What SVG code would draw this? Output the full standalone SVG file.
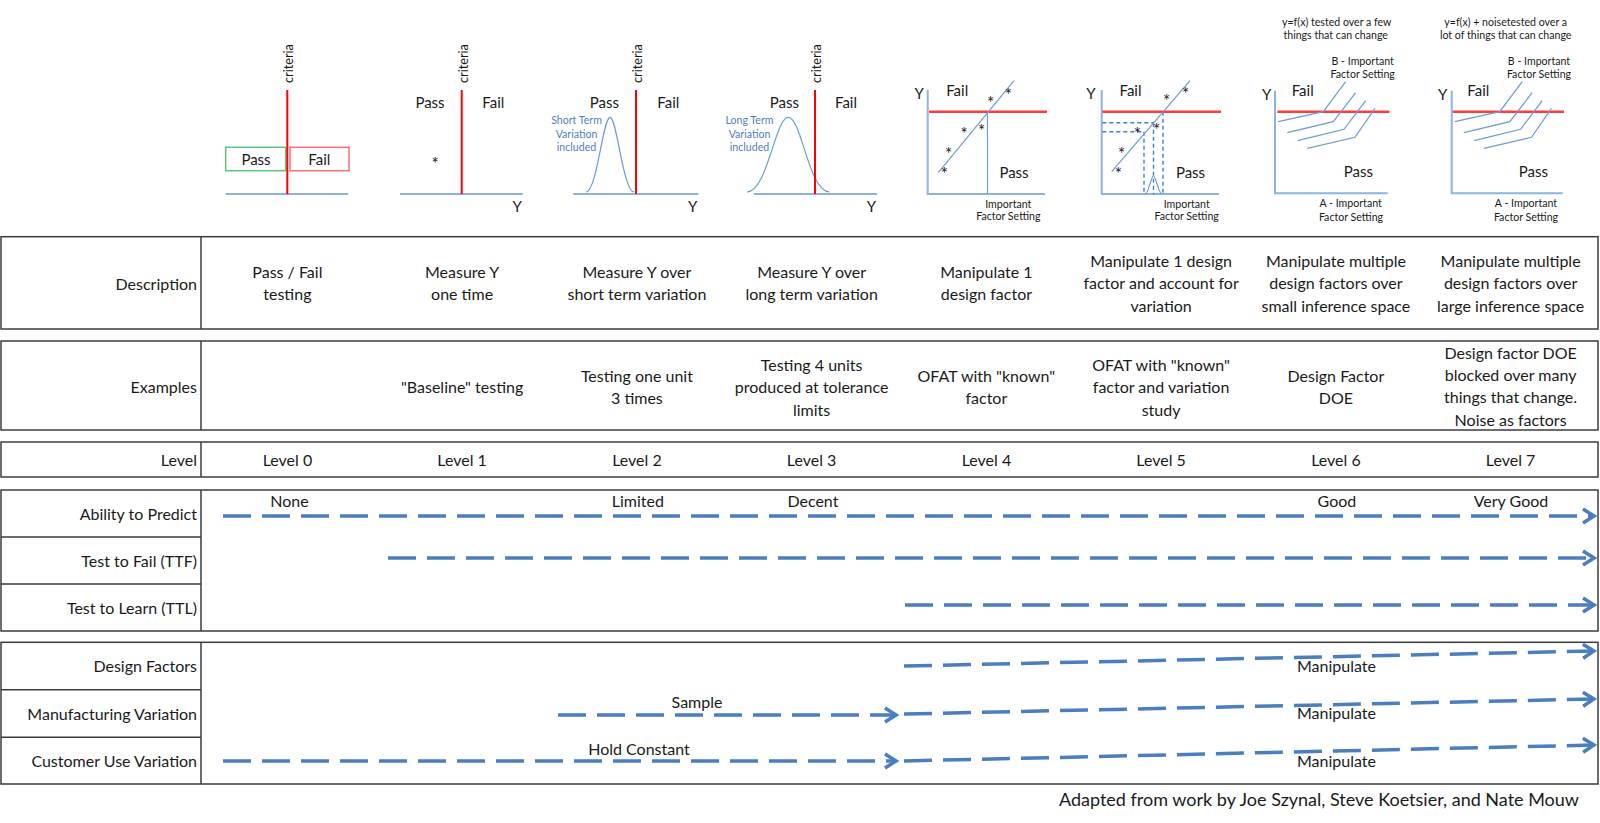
<svg xmlns="http://www.w3.org/2000/svg" width="1600" height="823" viewBox="0 0 1600 823">
<style>
text{font-family:Lato,"Liberation Sans",sans-serif;fill:#1a1a1a}
.t{font-size:16px;text-anchor:middle}
.lbl{font-size:16px;text-anchor:end}
.pf{font-size:15px;text-anchor:middle}
.sm{font-size:10.6px;text-anchor:middle}
.crit{font-size:12.7px}
.blt{fill:#4F81BD;font-size:10.6px;text-anchor:middle}
.star{font-size:17px;text-anchor:middle}
.box{fill:none;stroke:#3c3c3c;stroke-width:1.5}
.sep{stroke:#3c3c3c;stroke-width:1.5}
.ax{fill:none;stroke:#8DB3E2;stroke-width:2}
.crl{stroke:#FF0000;stroke-width:2;fill:none}
.hr{stroke:#FF3C3C;stroke-width:2.5;fill:none}
.fn{fill:none;stroke:#6C9BD8;stroke-width:1.2}
.dsh{fill:none;stroke:#3F7FD0;stroke-width:1.4;stroke-dasharray:4 3}
.arr{fill:none;stroke:#4A7EBF;stroke-width:3.5;stroke-dasharray:28 11;marker-end:url(#chev)}
</style>
<defs>
<marker id="chev" markerUnits="userSpaceOnUse" markerWidth="16" markerHeight="18" viewBox="-2 -2 16 18" refX="11" refY="7" orient="auto">
<path d="M0,0 L11,7 L0,14" fill="none" stroke="#4A7EBF" stroke-width="3.5"/>
</marker>
</defs>
<rect width="1600" height="823" fill="#ffffff"/>

<g id="diagram-0">
<path class="ax" d="M225.7,194 H348.3"/>
<rect x="225.7" y="147.3" width="60" height="23.4" fill="none" stroke="#5CC47E" stroke-width="1.5"/>
<rect x="290" y="147.3" width="59" height="23.4" fill="none" stroke="#FF6E70" stroke-width="1.5"/>
<path class="crl" d="M287.3,90 V194"/>
<text class="crit" transform="translate(293,83) rotate(-90)">criteria</text>
<text class="pf" x="256" y="165">Pass</text>
<text class="pf" x="319.3" y="165">Fail</text>
</g>

<g id="diagram-1">
<path class="ax" d="M400,194 H522.7"/>
<path class="crl" d="M461.7,90 V194"/>
<text class="crit" transform="translate(467.5,83) rotate(-90)">criteria</text>
<text class="pf" x="430" y="108">Pass</text>
<text class="pf" x="493.3" y="108">Fail</text>
<text class="star" x="435" y="169.5">*</text>
<text class="pf" x="517.3" y="212">Y</text>
</g>

<g id="diagram-2">
<path class="ax" d="M573.3,194 H698.3"/>
<path class="fn" d="M586,192 C597,191 603,117.3 610,117.3 C617,117.3 623,191 634,192"/>
<path class="crl" d="M636,90 V194"/>
<text class="crit" transform="translate(642,83) rotate(-90)">criteria</text>
<text class="pf" x="604.3" y="108">Pass</text>
<text class="pf" x="668.3" y="108">Fail</text>
<text class="blt" x="576.5" y="124">Short Term</text>
<text class="blt" x="576.5" y="137.5">Variation</text>
<text class="blt" x="576.5" y="151">included</text>
<text class="pf" x="692.7" y="212">Y</text>
</g>

<g id="diagram-3">
<path class="ax" d="M754,194 H877"/>
<path class="fn" d="M747,192 C768,191 775,117.3 788.3,117.3 C801.5,117.3 808.5,191 829.5,192"/>
<path class="crl" d="M815,90 V194"/>
<text class="crit" transform="translate(821,83) rotate(-90)">criteria</text>
<text class="pf" x="784.3" y="108">Pass</text>
<text class="pf" x="846" y="108">Fail</text>
<text class="blt" x="749.5" y="124">Long Term</text>
<text class="blt" x="749.5" y="137.5">Variation</text>
<text class="blt" x="749.5" y="151">included</text>
<text class="pf" x="871.5" y="212">Y</text>
</g>

<g id="diagram-4">
<path class="ax" d="M927.7,90 V194 H1045"/>
<path class="hr" d="M929,111.7 H1047"/>
<path class="fn" d="M938.3,172.7 L1014,80.7"/>
<path class="fn" d="M987.5,111.7 V194"/>
<text class="star" x="944.3" y="179.5">*</text>
<text class="star" x="948.5" y="159.6">*</text>
<text class="star" x="964" y="140.2">*</text>
<text class="star" x="981.7" y="136.8">*</text>
<text class="star" x="990.7" y="108.8">*</text>
<text class="star" x="1008.3" y="101.2">*</text>
<text class="pf" x="919.3" y="99">Y</text>
<text class="pf" x="957.2" y="96">Fail</text>
<text class="pf" x="1014" y="178">Pass</text>
<text class="sm" x="1008.3" y="207.5">Important</text>
<text class="sm" x="1008.3" y="220">Factor Setting</text>
</g>

<g id="diagram-5">
<path class="ax" d="M1101.7,90 V194 H1219"/>
<path class="dsh" d="M1102.3,122.7 H1154 M1102.3,131.7 H1144 M1144,131.7 V194 M1153.5,122.7 V194 M1163,111.7 V194"/>
<path class="fn" d="M1145,194 C1149,193 1151,176 1153.5,176 C1156,176 1158,193 1162,194"/>
<path class="hr" d="M1102.3,111.7 H1221"/>
<path class="fn" d="M1111.7,171.7 L1190,80.7"/>
<text class="star" x="1118.3" y="179.5">*</text>
<text class="star" x="1121.7" y="159.5">*</text>
<text class="star" x="1137.3" y="140.2">*</text>
<text class="star" x="1156.7" y="136.2">*</text>
<text class="star" x="1166.7" y="107.2">*</text>
<text class="star" x="1185.7" y="100.2">*</text>
<text class="pf" x="1091" y="99">Y</text>
<text class="pf" x="1130.5" y="96">Fail</text>
<text class="pf" x="1190.5" y="178">Pass</text>
<text class="sm" x="1186.7" y="207.5">Important</text>
<text class="sm" x="1186.7" y="220">Factor Setting</text>
</g>

<g id="diagram-6">
<text class="sm" x="1336.7" y="26">y=f(x) tested over a few</text>
<text class="sm" x="1335.7" y="39">things that can change</text>
<text class="sm" x="1362.7" y="64.5">B - Important</text>
<text class="sm" x="1362.7" y="77.5">Factor Setting</text>
<path class="ax" d="M1275,90.7 V193.3 H1387.7"/>
<path class="hr" d="M1277.3,111.7 H1389.3"/>
<path class="fn" d="M1278.3,121.7 L1323.3,111.7 L1345.7,81.7 M1287.3,132.7 L1333.3,121.7 L1355.7,92.7 M1297.7,140.7 L1344,129.3 L1365.7,100.7 M1307.3,148.3 L1355,137.3 L1375,108.3"/>
<text class="pf" x="1266.7" y="100">Y</text>
<text class="pf" x="1302.7" y="95.5">Fail</text>
<text class="pf" x="1358.3" y="177">Pass</text>
<text class="sm" x="1350.7" y="207">A - Important</text>
<text class="sm" x="1351" y="221">Factor Setting</text>
</g>

<g id="diagram-7">
<text class="sm" x="1505.7" y="26">y=f(x) + noisetested over a</text>
<text class="sm" x="1505.7" y="39">lot of things that can change</text>
<text class="sm" x="1539" y="64.5">B - Important</text>
<text class="sm" x="1539" y="77.5">Factor Setting</text>
<path class="ax" d="M1451.7,90.7 V193.3 H1562.7"/>
<path class="hr" d="M1452.7,111.7 H1564"/>
<path class="fn" d="M1454.8,121.7 L1499.8,111.7 L1522.2,81.7 M1463.8,132.7 L1509.8,121.7 L1532.2,92.7 M1474.2,140.7 L1520.5,129.3 L1542.2,100.7 M1483.8,148.3 L1531.5,137.3 L1551.5,108.3"/>
<text class="pf" x="1442.7" y="100">Y</text>
<text class="pf" x="1478.3" y="95.5">Fail</text>
<text class="pf" x="1533.3" y="177">Pass</text>
<text class="sm" x="1526" y="207">A - Important</text>
<text class="sm" x="1526" y="221">Factor Setting</text>
</g>

<g id="row-description">
<rect class="box" x="1" y="236.7" width="1597" height="92.3"/>
<path class="sep" d="M201,236.7 V329"/>
<text class="lbl" x="197" y="289.5">Description</text>
<text class="t" x="287.4" y="277.5">Pass / Fail</text><text class="t" x="287.4" y="300">testing</text>
<text class="t" x="462.1" y="277.5">Measure Y</text><text class="t" x="462.1" y="300">one time</text>
<text class="t" x="636.9" y="277.5">Measure Y over</text><text class="t" x="636.9" y="300">short term variation</text>
<text class="t" x="811.6" y="277.5">Measure Y over</text><text class="t" x="811.6" y="300">long term variation</text>
<text class="t" x="986.4" y="277.5">Manipulate 1</text><text class="t" x="986.4" y="300">design factor</text>
<text class="t" x="1161.1" y="266.5">Manipulate 1 design</text><text class="t" x="1161.1" y="289">factor and account for</text><text class="t" x="1161.1" y="311.5">variation</text>
<text class="t" x="1335.9" y="266.5">Manipulate multiple</text><text class="t" x="1335.9" y="289">design factors over</text><text class="t" x="1335.9" y="311.5">small inference space</text>
<text class="t" x="1510.6" y="266.5">Manipulate multiple</text><text class="t" x="1510.6" y="289">design factors over</text><text class="t" x="1510.6" y="311.5">large inference space</text>
</g>

<g id="row-examples">
<rect class="box" x="1" y="341" width="1597" height="89"/>
<path class="sep" d="M201,341 V430"/>
<text class="lbl" x="197" y="393">Examples</text>
<text class="t" x="462.1" y="393">"Baseline" testing</text>
<text class="t" x="636.9" y="382">Testing one unit</text><text class="t" x="636.9" y="404">3 times</text>
<text class="t" x="811.6" y="370.5">Testing 4 units</text><text class="t" x="811.6" y="393">produced at tolerance</text><text class="t" x="811.6" y="415.5">limits</text>
<text class="t" x="986.4" y="382">OFAT with "known"</text><text class="t" x="986.4" y="404">factor</text>
<text class="t" x="1161.1" y="370.5">OFAT with "known"</text><text class="t" x="1161.1" y="393">factor and variation</text><text class="t" x="1161.1" y="415.5">study</text>
<text class="t" x="1335.9" y="382">Design Factor</text><text class="t" x="1335.9" y="404">DOE</text>
<text class="t" x="1510.6" y="358.5">Design factor DOE</text><text class="t" x="1510.6" y="381">blocked over many</text><text class="t" x="1510.6" y="403">things that change.</text><text class="t" x="1510.6" y="425.5">Noise as factors</text>
</g>

<g id="row-level">
<rect class="box" x="1" y="442" width="1597" height="35"/>
<path class="sep" d="M201,442 V477"/>
<text class="lbl" x="197" y="465.5">Level</text>
<text class="t" x="287.4" y="465.5">Level 0</text>
<text class="t" x="462.1" y="465.5">Level 1</text>
<text class="t" x="636.9" y="465.5">Level 2</text>
<text class="t" x="811.6" y="465.5">Level 3</text>
<text class="t" x="986.4" y="465.5">Level 4</text>
<text class="t" x="1161.1" y="465.5">Level 5</text>
<text class="t" x="1335.9" y="465.5">Level 6</text>
<text class="t" x="1510.6" y="465.5">Level 7</text>
</g>

<g id="block-testing">
<rect class="box" x="1" y="490" width="1597" height="141"/>
<path class="sep" d="M201,490 V631 M1,537 H201 M1,584 H201"/>
<text class="lbl" x="197" y="519.5">Ability to Predict</text>
<text class="lbl" x="197" y="566.5">Test to Fail (TTF)</text>
<text class="lbl" x="197" y="613.5">Test to Learn (TTL)</text>
<text class="t" x="289.4" y="507">None</text>
<text class="t" x="637.8" y="507">Limited</text>
<text class="t" x="812.9" y="507">Decent</text>
<text class="t" x="1336.9" y="507">Good</text>
<text class="t" x="1511" y="507">Very Good</text>
</g>

<g id="block-factors">
<rect class="box" x="1" y="642.3" width="1597" height="141.7"/>
<path class="sep" d="M201,642.3 V784 M1,689.7 H201 M1,737.3 H201"/>
<text class="lbl" x="197" y="672">Design Factors</text>
<text class="lbl" x="197" y="719.5">Manufacturing Variation</text>
<text class="lbl" x="197" y="766.5">Customer Use Variation</text>
<text class="t" x="697" y="707.5">Sample</text>
<text class="t" x="639" y="754.5">Hold Constant</text>
<text class="t" x="1336.5" y="672">Manipulate</text>
<text class="t" x="1336.5" y="719">Manipulate</text>
<text class="t" x="1336.5" y="766.5">Manipulate</text>
</g>

<g id="connectors">
<path class="arr" d="M223,516 H1594"/>
<path class="arr" d="M388,558 H1594"/>
<path class="arr" d="M905,605 H1594"/>
<path class="arr" d="M904,666 L1594,651"/>
<path class="arr" d="M558,715 H896"/>
<path class="arr" d="M904,714 L1594,699"/>
<path class="arr" d="M223,761 H896"/>
<path class="arr" d="M904,761 L1594,745"/>
</g>

<text x="1579" y="806" text-anchor="end" font-size="18">Adapted from work by Joe Szynal, Steve Koetsier, and Nate Mouw</text>
</svg>
